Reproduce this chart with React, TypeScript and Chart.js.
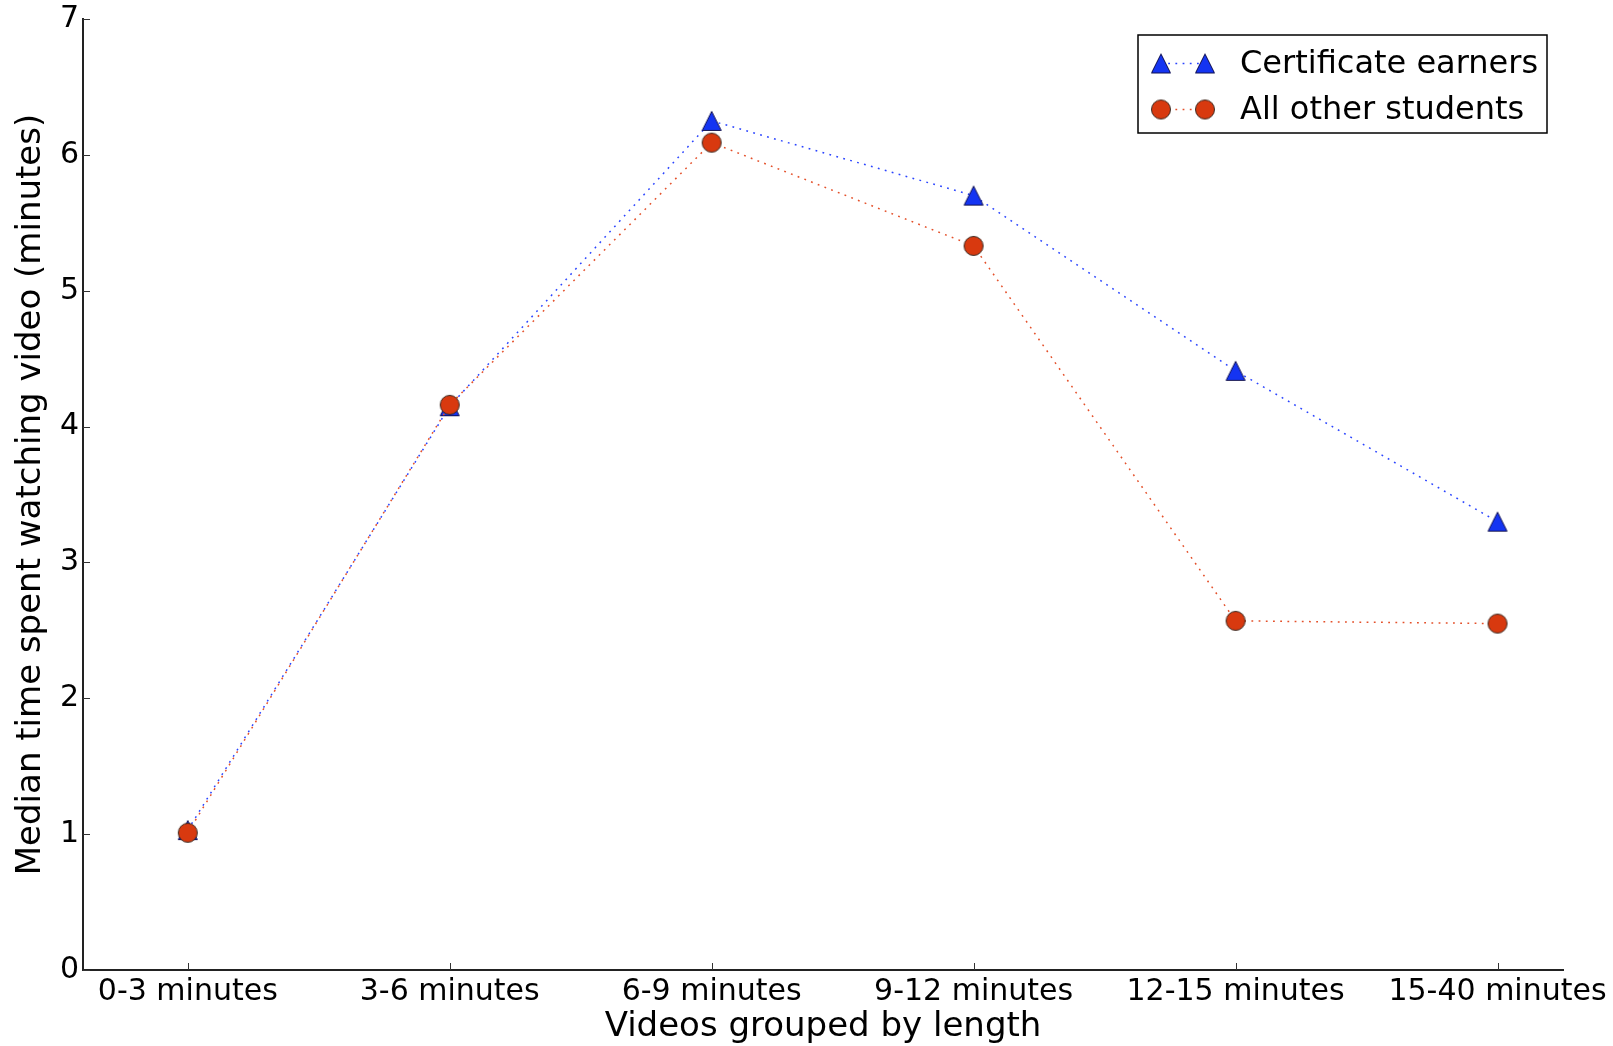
import React, { useEffect, useRef } from 'react';
import { Chart, registerables } from 'chart.js';

Chart.register(...registerables);

const categories = ['0-3 minutes', '3-6 minutes', '6-9 minutes', '9-12 minutes', '12-15 minutes', '15-40 minutes'];
const certificateEarners = [1.03, 4.15, 6.25, 5.7, 4.41, 3.3];
const allOtherStudents = [1.01, 4.16, 6.09, 5.33, 2.57, 2.55];
const yTicks = [0, 1, 2, 3, 4, 5, 6, 7];
const seriesLabels = ['Certificate earners', 'All other students'];
const xTitle = 'Videos grouped by length';
const yTitle = 'Median time spent watching video (minutes)';

const FONT = '"DejaVu Sans", "Liberation Sans", sans-serif';
const BLUE_FILL = '#1434f2';
const BLUE_EDGE = '#101050';
const BLUE_LINE = '#2a44ff';
const RED_FILL = '#d8390f';
const RED_EDGE = '#3a2a22';
const RED_LINE = '#e4502a';

function makeTriangle(): HTMLCanvasElement {
  const c = document.createElement('canvas');
  c.width = 22;
  c.height = 22;
  const ctx = c.getContext('2d')!;
  ctx.beginPath();
  ctx.moveTo(11, 1.5);
  ctx.lineTo(1.5, 20.5);
  ctx.lineTo(20.5, 20.5);
  ctx.closePath();
  ctx.fillStyle = BLUE_FILL;
  ctx.fill();
  ctx.lineWidth = 1;
  ctx.strokeStyle = BLUE_EDGE;
  ctx.lineJoin = 'miter';
  ctx.stroke();
  return c;
}

function makeCircle(): HTMLCanvasElement {
  const c = document.createElement('canvas');
  c.width = 22;
  c.height = 22;
  const ctx = c.getContext('2d')!;
  ctx.beginPath();
  ctx.arc(11, 11, 9.5, 0, Math.PI * 2);
  ctx.fillStyle = RED_FILL;
  ctx.fill();
  ctx.lineWidth = 1;
  ctx.strokeStyle = RED_EDGE;
  ctx.stroke();
  return c;
}

export default function App() {
  const canvasRef = useRef<HTMLCanvasElement | null>(null);

  useEffect(() => {
    const canvas = canvasRef.current;
    if (!canvas) return;
    const tri = makeTriangle();
    const circ = makeCircle();

    const ticksPlugin = {
      id: 'inwardTicks',
      afterDraw(chart: any) {
        const ctx = chart.ctx;
        const { x, y } = chart.scales;
        const area = chart.chartArea;
        ctx.save();
        ctx.strokeStyle = '#333';
        ctx.lineWidth = 1;
        ctx.beginPath();
        yTicks.forEach((v) => {
          const py = Math.round(y.getPixelForValue(v)) + 0.5;
          ctx.moveTo(area.left, py);
          ctx.lineTo(area.left + 7, py);
        });
        categories.forEach((_, i) => {
          const px = Math.round(x.getPixelForValue(i)) + 0.5;
          ctx.moveTo(px, area.bottom);
          ctx.lineTo(px, area.bottom - 7);
        });
        ctx.stroke();
        ctx.restore();
      },
    };

    const legendPlugin = {
      id: 'mplLegend',
      afterDraw(chart: any) {
        const ctx = chart.ctx;
        ctx.save();
        ctx.fillStyle = '#ffffff';
        ctx.fillRect(1138, 35, 409, 98);
        ctx.strokeStyle = '#000';
        ctx.lineWidth = 1.5;
        ctx.strokeRect(1138, 35, 409, 98);
        const rows = [
          { y: 63.5, img: tri, color: BLUE_LINE, label: seriesLabels[0] },
          { y: 109.5, img: circ, color: RED_LINE, label: seriesLabels[1] },
        ];
        rows.forEach((r) => {
          ctx.save();
          ctx.strokeStyle = r.color;
          ctx.lineWidth = 1.5;
          ctx.setLineDash([1.8, 5.4]);
          ctx.beginPath();
          ctx.moveTo(1161, r.y);
          ctx.lineTo(1205, r.y);
          ctx.stroke();
          ctx.restore();
          ctx.drawImage(r.img, 1161 - 11, r.y - 11);
          ctx.drawImage(r.img, 1205 - 11, r.y - 11);
          ctx.fillStyle = '#000';
          ctx.font = `32px ${FONT}`;
          ctx.textBaseline = 'middle';
          ctx.textAlign = 'left';
          ctx.fillText(r.label, 1240, r.y + 1);
        });
        ctx.restore();
      },
    };

    const chart = new Chart(canvas, {
      type: 'line',
      data: {
        datasets: [
          {
            label: seriesLabels[0],
            data: categories.map((_, i) => ({ x: i, y: certificateEarners[i] })),
            borderColor: BLUE_LINE,
            borderWidth: 1.5,
            borderDash: [1.8, 5.4],
            pointStyle: tri as any,
            pointRadius: 10,
            pointHoverRadius: 10,
            fill: false,
            tension: 0,
            order: 2,
          },
          {
            label: seriesLabels[1],
            data: categories.map((_, i) => ({ x: i, y: allOtherStudents[i] })),
            borderColor: RED_LINE,
            borderWidth: 1.5,
            borderDash: [1.8, 5.4],
            pointStyle: circ as any,
            pointRadius: 10,
            pointHoverRadius: 10,
            fill: false,
            tension: 0,
            order: 1,
          },
        ],
      },
      options: {
        animation: false,
        responsive: true,
        maintainAspectRatio: false,
        layout: { padding: { top: 19, right: 50, left: 0, bottom: 0 } },
        plugins: {
          legend: { display: false },
          tooltip: { enabled: false },
        },
        events: [],
        scales: {
          x: {
            type: 'linear',
            min: -0.4,
            max: 5.25,
            afterBuildTicks: (scale: any) => {
              scale.ticks = categories.map((_, i) => ({ value: i }));
            },
            afterFit: (scale: any) => {
              scale.height = 76;
            },
            ticks: {
              autoSkip: false,
              maxRotation: 0,
              minRotation: 0,
              padding: 4,
              color: '#000',
              font: { family: FONT, size: 30, lineHeight: 1.2 },
              callback: (v: any) => categories[Math.round(Number(v))] ?? '',
            },
            grid: { display: false, drawTicks: false, tickLength: 0 },
            border: { display: true, color: '#222', width: 2 },
            title: {
              display: true,
              text: xTitle,
              color: '#000',
              font: { family: FONT, size: 34, lineHeight: 1 },
              padding: { top: 0, bottom: 2 },
            },
          },
          y: {
            type: 'linear',
            min: 0,
            max: 7,
            afterBuildTicks: (scale: any) => {
              scale.ticks = yTicks.map((v) => ({ value: v }));
            },
            afterFit: (scale: any) => {
              scale.width = 83;
              scale.paddingTop = 0;
              scale.paddingBottom = 0;
            },
            ticks: {
              padding: 4,
              color: '#000',
              font: { family: FONT, size: 30, lineHeight: 1 },
              callback: (v: any) => String(v),
            },
            grid: { display: false, drawTicks: false, tickLength: 0 },
            border: { display: true, color: '#222', width: 2 },
            title: {
              display: true,
              text: yTitle,
              color: '#000',
              font: { family: FONT, size: 34, lineHeight: 1 },
              padding: { top: 14, bottom: 0 },
            },
          },
        },
      },
      plugins: [ticksPlugin, legendPlugin],
    });

    return () => {
      chart.destroy();
    };
  }, []);

  return (
    <div style={{ position: 'fixed', left: 0, top: 0, width: 1613, height: 1046, background: '#fff' }}>
      <canvas ref={canvasRef} />
    </div>
  );
}
